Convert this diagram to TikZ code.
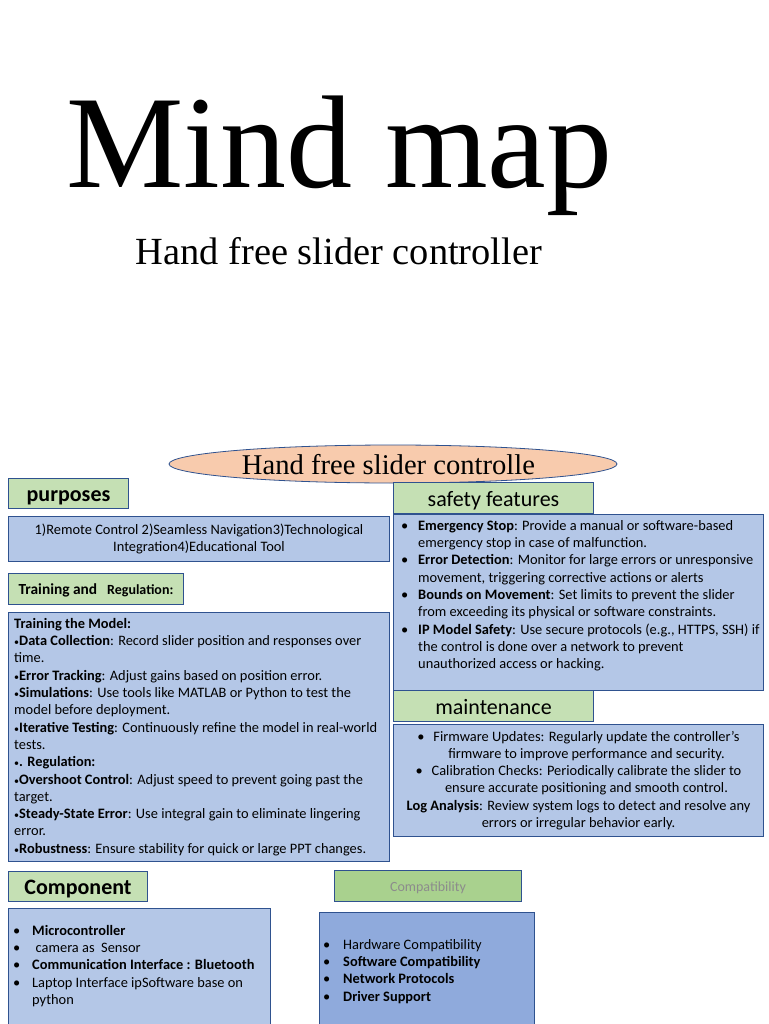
\documentclass[tikz,border=0pt]{standalone}
\usepackage{fontspec}
\setmainfont{Liberation Serif}
\newfontfamily\calibri{Carlito}
\usetikzlibrary{positioning,shapes.geometric}
\definecolor{HeadGreen}{RGB}{197,224,180}
\definecolor{CompatGreen}{RGB}{169,209,142}
\definecolor{PanelBlue}{RGB}{180,199,231}
\definecolor{CompatBlue}{RGB}{143,170,220}
\definecolor{EdgeBlue}{RGB}{47,82,143}
\definecolor{HubPeach}{RGB}{248,203,173}
\definecolor{FadeGray}{RGB}{140,140,140}
\newcommand{\bodyfont}{\calibri\fontsize{14.4}{17.3}\selectfont}
\newcommand{\dotitem}[1]{\makebox[#1][l]{\textbullet}}
\newcommand{\tinydot}{{\fontsize{10}{10}\selectfont\textbullet}}
\tikzset{
  headbox/.style={draw=EdgeBlue,fill=HeadGreen,line width=1pt,inner sep=0pt,anchor=north west,
    font=\calibri\fontsize{22}{26}\selectfont,text height=16pt,text depth=0pt},
  panel/.style={draw=EdgeBlue,fill=PanelBlue,line width=1pt,inner sep=0pt,anchor=north west,
    font=\bodyfont,align=center},
  bodytext/.style={inner sep=0pt,font=\bodyfont,align=left},
  hub/.style={ellipse,draw=EdgeBlue,fill=HubPeach,line width=0.8pt,
    minimum width=448pt,minimum height=38pt,inner sep=0pt},
}

\begin{document}
\begin{tikzpicture}[x=1pt,y=-1pt]
\useasboundingbox (0,0) rectangle (768,1024);
\fill[white] (0,0) rectangle (768,1024);
% title
\node[anchor=base west,inner sep=0pt,font=\fontsize{132}{132}\selectfont] (title) at (66,188) {Mind map};
\node[anchor=base,inner sep=0pt,font=\fontsize{38.4}{44}\selectfont] (subtitle) at (339,264) {Hand free slider controller};
% central topic
\node[hub] (hub) at (393,464) {};
\node[anchor=base,inner sep=0pt,font=\fontsize{28.6}{32}\selectfont] (hubText) at (388.5,474) {Hand free slider controlle};
% left column
\node[headbox,font=\calibri\bfseries\fontsize{22}{26}\selectfont,minimum width=120pt,minimum height=30pt] (purpHead) at (8,478) {purposes};
\node[panel,minimum width=381pt,minimum height=45pt] (purpBody) at (8,516)
  {1)Remote Control 2)Seamless Navigation3)Technological\\Integration4)Educational Tool};
\node[headbox,text height=11pt,minimum width=175pt,minimum height=31pt] (trainHead) at (8,573)
  {\bfseries{\fontsize{15.4}{18}\selectfont Training and}\ \ {\fontsize{14}{18}\selectfont Regulation:}};
\node[panel,minimum width=381pt,minimum height=249pt] (trainBody) at (8,612) {};
\node[bodytext,anchor=west] (trainText) at ([xshift=6pt]trainBody.west) {%
  \textbf{Training the Model:}\\
  \tinydot\textbf{Data Collection}: Record slider position and responses over\\
  time.\\
  \tinydot\textbf{Error Tracking}: Adjust gains based on position error.\\
  \tinydot\textbf{Simulations}: Use tools like MATLAB or Python to test the\\
  model before deployment.\\
  \tinydot\textbf{Iterative Testing}: Continuously refine the model in real-world\\
  tests.\\
  \tinydot\textbf{. Regulation:}\\
  \tinydot\textbf{Overshoot Control}: Adjust speed to prevent going past the\\
  target.\\
  \tinydot\textbf{Steady-State Error}: Use integral gain to eliminate lingering\\
  error.\\
  \tinydot\textbf{Robustness}: Ensure stability for quick or large PPT changes.};
\node[headbox,font=\calibri\bfseries\fontsize{22}{26}\selectfont,minimum width=139pt,minimum height=30pt] (compHead) at (8,871) {Component};
\node[panel,minimum width=262pt,minimum height=140pt] (compBody) at (8,908) {};
\node[bodytext,anchor=north west] (compText) at (13,925) {%
  \dotitem{19pt}\textbf{Microcontroller}\\
  \dotitem{19pt}\hspace*{3.5pt}camera as\ \ Sensor\\
  \dotitem{19pt}\textbf{Communication Interface : Bluetooth}\\
  \dotitem{19pt}Laptop Interface ipSoftware base on\\
  \hspace*{19pt}python};
% right column
\node[headbox,minimum width=200pt,minimum height=31pt] (safeHead) at (393,482) {safety features};
\node[panel,minimum width=370pt,minimum height=176pt] (safeBody) at (393,514) {};
\node[bodytext,anchor=north west] (safeText) at (401,520) {%
  \dotitem{17pt}\textbf{Emergency Stop}: Provide a manual or software-based\\
  \hspace*{17pt}emergency stop in case of malfunction.\\
  \dotitem{17pt}\textbf{Error Detection}: Monitor for large errors or unresponsive\\
  \hspace*{17pt}movement, triggering corrective actions or alerts\\
  \dotitem{17pt}\textbf{Bounds on Movement}: Set limits to prevent the slider\\
  \hspace*{17pt}from exceeding its physical or software constraints.\\
  \dotitem{17pt}\textbf{IP Model Safety}: Use secure protocols (e.g., HTTPS, SSH) if\\
  \hspace*{17pt}the control is done over a network to prevent\\
  \hspace*{17pt}unauthorized access or hacking.};
\node[headbox,minimum width=200pt,minimum height=31pt] (maintHead) at (393,690) {maintenance};
\node[panel,minimum width=370pt,minimum height=112pt] (maintBody) at (393,724) {%
  \dotitem{16pt}Firmware Updates: Regularly update the controller’s\\
  \hspace*{16pt}firmware to improve performance and security.\\
  \dotitem{16pt}Calibration Checks: Periodically calibrate the slider to\\
  \hspace*{16pt}ensure accurate positioning and smooth control.\\
  \textbf{Log Analysis}: Review system logs to detect and resolve any\\
  errors or irregular behavior early.};
\node[headbox,fill=CompatGreen,text=FadeGray,font=\calibri\fontsize{14}{17}\selectfont,
  text height=11pt,minimum width=187pt,minimum height=31pt] (compatHead) at (334,870) {Compatibility};
\node[panel,fill=CompatBlue,minimum width=215pt,minimum height=140pt] (compatBody) at (319,912) {};
\node[bodytext,anchor=north west] (compatText) at (323,939) {%
  \dotitem{20pt}Hardware Compatibility\\
  \dotitem{20pt}\textbf{Software Compatibility}\\
  \dotitem{20pt}\textbf{Network Protocols}\\
  \dotitem{20pt}\textbf{Driver Support}};
\end{tikzpicture}
\end{document}
